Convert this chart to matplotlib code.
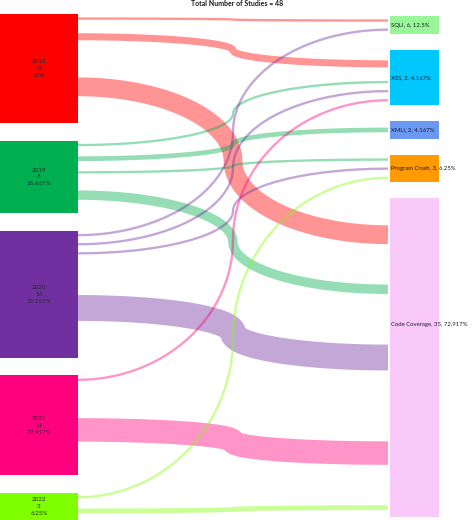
import matplotlib
matplotlib.use('Agg')
import matplotlib.pyplot as plt
import numpy as np
from matplotlib.patches import Rectangle

plt.rcParams['font.family'] = ['Lato', 'DejaVu Sans']

# data
years = ['2018', '2019', '2020', '2021', '2022']
year_counts = [12, 8, 14, 11, 3]
year_pcts = ['25%', '16.667%', '29.167%', '22.917%', '6.25%']
year_colors = ['#ff0000', '#00b050', '#7030a0', '#ff007f', '#80ff00']

targets = ['SQLI', 'XSS', 'XMLI', 'Program Crash', 'Code Coverage']
target_labels = ['SQLI, 6, 12.5%', 'XSS, 2, 4.167%', 'XMLI, 2, 4.167%',
                 'Program Crash, 3, 6.25%', 'Code Coverage, 35, 72.917%']
target_colors = ['#99f799', '#00c8ff', '#6a98f2', '#ff9a00', '#f9caf9']

link_src = ['2018', '2018', '2018',
            '2019', '2019', '2019', '2019',
            '2020', '2020', '2020', '2020',
            '2021', '2021',
            '2022', '2022']
link_tgt = ['SQLI', 'XSS', 'Code Coverage',
            'XSS', 'XMLI', 'Program Crash', 'Code Coverage',
            'SQLI', 'XSS', 'Program Crash', 'Code Coverage',
            'XSS', 'Code Coverage',
            'Program Crash', 'Code Coverage']
link_val = [1, 3, 8,
            1, 2, 1, 4,
            1, 1, 1, 11,
            1, 10,
            1, 2]

# layout (pixels)
W, H = 474, 520
unit = 9.1
left_top, left_gap = 14, 17.3
right_top, right_gap = 16, 16
left_x0, left_x1 = 0, 78
right_x0, right_x1 = 390, 439
link_end = 388
link_px = 2.35          # drawn width of one study
label_dy = {'Code Coverage': -33}

fig = plt.figure(figsize=(W / 100, H / 100), dpi=100, facecolor='w')
ax = fig.add_axes([0, 0, 1, 1])
ax.set_xlim(0, W)
ax.set_ylim(H, 0)
ax.axis('off')


def stack(names, sizes, top, gap):
    pos = {}
    y = top
    for n, s in zip(names, sizes):
        pos[n] = (y, y + s * unit)
        y += s * unit + gap
    return pos


tgt_sizes = [sum(v for t, v in zip(link_tgt, link_val) if t == name)
             for name in targets]
left_pos = stack(years, year_counts, left_top, left_gap)
right_pos = stack(targets, tgt_sizes, right_top, right_gap)

# link anchor points, stacked inside each node
src_off = {n: left_pos[n][0] for n in years}
tgt_off = {n: right_pos[n][0] for n in targets}
order_src = sorted(range(len(link_val)),
                   key=lambda i: (years.index(link_src[i]), targets.index(link_tgt[i])))
y_start = {}
for i in order_src:
    h = link_val[i] * unit
    y_start[i] = src_off[link_src[i]] + h / 2
    src_off[link_src[i]] += h
order_tgt = sorted(range(len(link_val)),
                   key=lambda i: (targets.index(link_tgt[i]), years.index(link_src[i])))
y_end = {}
for i in order_tgt:
    h = link_val[i] * unit
    y_end[i] = tgt_off[link_tgt[i]] + h / 2
    tgt_off[link_tgt[i]] += h

# two quarter-ellipse arcs meeting (vertical) in the middle
s = np.linspace(0, 1, 800)
t = np.where(s < 0.5, 2 * s, 2 * (1 - s))
arc = 0.5 * (1 - np.sqrt(np.clip(1 - t ** 2, 0, 1)))
g = np.where(s < 0.5, arc, 1 - arc)
xs = left_x1 + s * (link_end - left_x1)
for i in range(len(link_val)):
    col = year_colors[years.index(link_src[i])]
    ys = y_start[i] + (y_end[i] - y_start[i]) * g
    ax.plot(xs, ys, color=col, alpha=0.42,
            lw=link_val[i] * link_px * 72 / 100,
            solid_capstyle='butt', solid_joinstyle='round', zorder=1)

for n, c, cnt, pct in zip(years, year_colors, year_counts, year_pcts):
    y0, y1 = left_pos[n]
    ax.add_patch(Rectangle((left_x0, y0), left_x1 - left_x0, y1 - y0,
                           color=c, lw=0, zorder=2))
    ax.text((left_x0 + left_x1) / 2, (y0 + y1) / 2, f'{n}\n{cnt}\n{pct}',
            ha='center', va='center', fontsize=4.5, color='#2a2a2a',
            linespacing=1.45, zorder=3)

for n, c, lab in zip(targets, target_colors, target_labels):
    y0, y1 = right_pos[n]
    ax.add_patch(Rectangle((right_x0, y0), right_x1 - right_x0, y1 - y0,
                           color=c, lw=0, zorder=2))
    ax.text(right_x0 + 1, (y0 + y1) / 2 + label_dy.get(n, 0), lab,
            ha='left', va='center', fontsize=4.3, color='#1a1a2a', zorder=3)

fig.text(0.5, 1 - 3.5 / H, 'Total Number of Studies = 48', ha='center',
         va='center', fontsize=5, fontweight='bold', color='#1a1a1a')

fig.savefig('out.png', dpi=100, facecolor='w')
